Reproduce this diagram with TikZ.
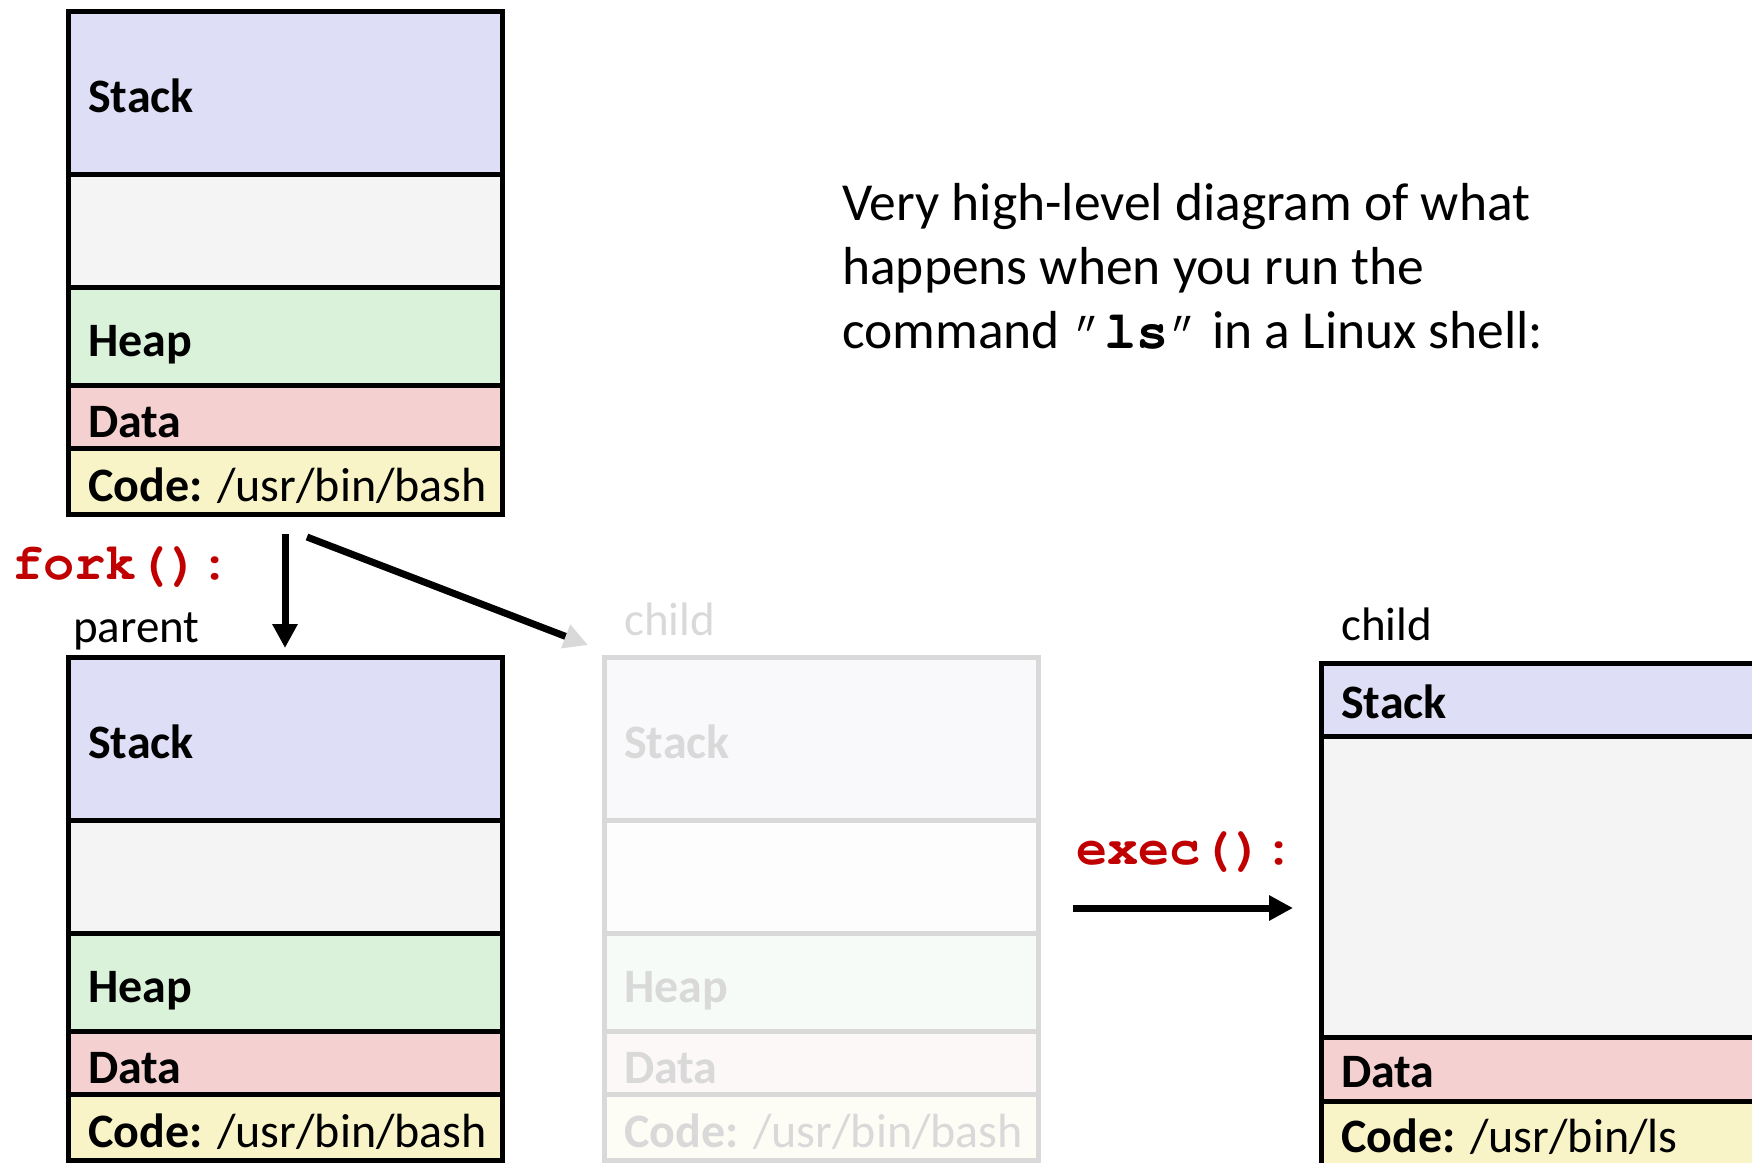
\documentclass[tikz,border=0pt]{standalone}
\usepackage{fontspec}
\setmainfont{Carlito}
\setmonofont{texgyrecursor}[Extension=.otf, UprightFont=*-regular, BoldFont=*-bold]
\usetikzlibrary{arrows.meta}
\definecolor{stackc}{HTML}{DEDEF6}
\definecolor{blankc}{HTML}{F4F4F4}
\definecolor{heapc}{HTML}{DAF2DA}
\definecolor{datac}{HTML}{F4D0D0}
\definecolor{codec}{HTML}{F8F4C8}
\definecolor{fadeline}{HTML}{D9D9D9}
\definecolor{fstackc}{HTML}{F9F9FC}
\definecolor{fblankc}{HTML}{FDFDFD}
\definecolor{fheapc}{HTML}{F7FBF7}
\definecolor{fdatac}{HTML}{FCF8F8}
\definecolor{fcodec}{HTML}{FEFDF5}
\definecolor{callred}{HTML}{C00000}
\begin{document}
\begin{tikzpicture}[x=1pt,y=-1pt,
  seg/.style={draw=black, line width=5pt, minimum width=434pt, inner sep=0pt, outer sep=0pt, anchor=north west},
  fseg/.style={seg, draw=fadeline},
  lab/.style={anchor=base west, inner sep=0pt, font=\fontsize{48}{58}\selectfont},
  flab/.style={lab, text=fadeline},
  small/.style={anchor=base west, inner sep=0pt, font=\fontsize{47}{56}\selectfont},
  ttl/.style={anchor=base west, inner sep=0pt, font=\fontsize{53.5}{64}\selectfont},
  call/.style={anchor=base west, inner sep=0pt, text=callred, font=\fontsize{52}{60}\selectfont\ttfamily\bfseries},
  arr/.style={line width=7pt, -{Triangle[length=24pt,width=24pt]}},
  farr/.style={line width=7pt, -{Triangle[length=24pt,width=24pt,color=fadeline]}}
]
\useasboundingbox (0,0) rectangle (1752,1162);
% ---- top box (bash) ----
\node[seg, fill=stackc, minimum height=163pt] (s1) at (68,11) {};
\node[seg, fill=blankc, minimum height=113pt] (b1) at (68,174) {};
\node[seg, fill=heapc, minimum height=98pt] (h1) at (68,287) {};
\node[seg, fill=datac, minimum height=63pt] (d1) at (68,385) {};
\node[seg, fill=codec, minimum height=66pt] (c1) at (68,448) {};
\node[lab] (s1t) at (88,112) {\bfseries Stack};
\node[lab] (h1t) at (88,356) {\bfseries Heap};
\node[lab] (d1t) at (88,437) {\bfseries Data};
\node[lab] (c1t) at (88,501) {\textbf{Code:} /usr/bin/bash};
% ---- parent box ----
\node[seg, fill=stackc, minimum height=163pt] (s2) at (68,657) {};
\node[seg, fill=blankc, minimum height=113pt] (b2) at (68,820) {};
\node[seg, fill=heapc, minimum height=98pt] (h2) at (68,933) {};
\node[seg, fill=datac, minimum height=63pt] (d2) at (68,1031) {};
\node[seg, fill=codec, minimum height=66pt] (c2) at (68,1094) {};
\node[lab] (s2t) at (88,758) {\bfseries Stack};
\node[lab] (h2t) at (88,1002) {\bfseries Heap};
\node[lab] (d2t) at (88,1083) {\bfseries Data};
\node[lab] (c2t) at (88,1147) {\textbf{Code:} /usr/bin/bash};
% ---- faded child box ----
\node[fseg, fill=fstackc, minimum height=163pt] (fs) at (604,657) {};
\node[fseg, fill=fblankc, minimum height=113pt] (fb) at (604,820) {};
\node[fseg, fill=fheapc, minimum height=98pt] (fh) at (604,933) {};
\node[fseg, fill=fdatac, minimum height=63pt] (fd) at (604,1031) {};
\node[fseg, fill=fcodec, minimum height=66pt] (fc) at (604,1094) {};
\node[flab] (fst) at (624,758) {\bfseries Stack};
\node[flab] (fht) at (624,1002) {\bfseries Heap};
\node[flab] (fdt) at (624,1083) {\bfseries Data};
\node[flab] (fct) at (624,1147) {\textbf{Code:} /usr/bin/bash};
% ---- exec child box ----
\node[seg, fill=stackc, minimum height=73pt] (rs) at (1321,663) {};
\node[seg, fill=blankc, minimum height=301pt] (rb) at (1321,736) {};
\node[seg, fill=datac, minimum height=64pt] (rd) at (1321,1037) {};
\node[seg, fill=codec, minimum height=66pt] (rc) at (1321,1101) {};
\node[lab] (rst) at (1341,718) {\bfseries Stack};
\node[lab] (rdt) at (1341,1087) {\bfseries Data};
\node[lab] (rct) at (1341,1152) {\textbf{Code:} /usr/bin/ls};
% ---- labels ----
\node[small] (parent) at (73,642) {parent};
\node[small, text=fadeline] (fchild) at (624,635) {child};
\node[small] (rchild) at (1341,640) {child};
\node[call] (fork) at (12,579) {fork():};
\node[call] (exec) at (1076,864) {exec():};
\node[ttl] (t1) at (842,220) {Very high-level diagram of what};
\node[ttl] (t2) at (842,284) {happens when you run the};
\node[ttl] (t3) at (842,348) {command {\ttfamily ”\textbf{ls}”} in a Linux shell:};
% ---- arrows ----
\draw[arr] ([yshift=-20pt]c1.south) -- ([yshift=9pt]s2.north);
\draw[farr] ([xshift=22pt,yshift=-23pt]c1.south) -- ([xshift=-16pt,yshift=12pt]fs.north west);
\coordinate (e1) at (1073,908);
\draw[arr, shorten >=28pt] (e1) -- (e1 -| rb.west);
\end{tikzpicture}
\end{document}
